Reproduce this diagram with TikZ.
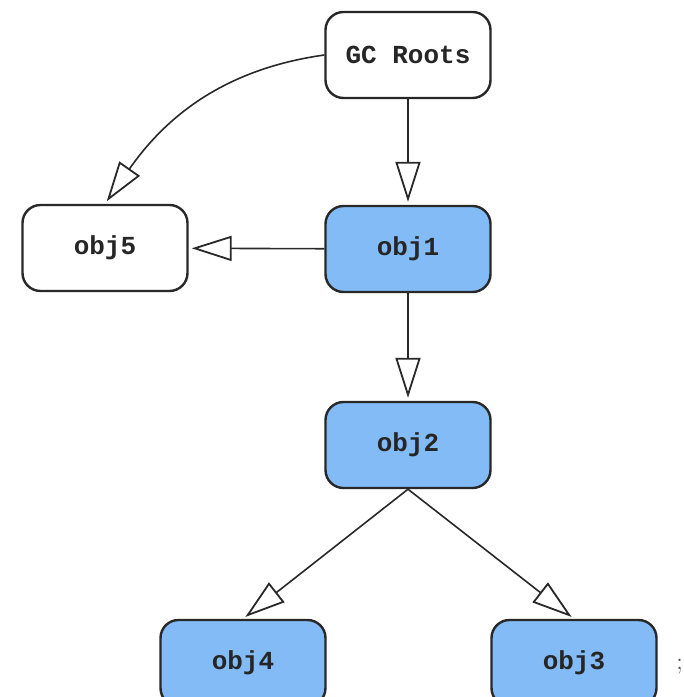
\documentclass[tikz,border=0pt]{standalone}
\usepackage{fontspec}
\setmonofont{Liberation Mono}
\usetikzlibrary{arrows.meta}
\definecolor{objblue}{RGB}{130,187,245}
\definecolor{edge}{RGB}{40,40,40}
\tikzset{
  objbox/.style={draw=edge, line width=1.2pt, rounded corners=9pt,
    minimum width=82.5pt, minimum height=43pt, inner sep=0pt,
    font=\ttfamily\bfseries\fontsize{13}{15}\selectfont, text=black!85},
  live/.style={objbox, fill=objblue},
  dead/.style={objbox, fill=white},
  conn/.style={draw=edge, line width=0.8pt, shorten >=1.5pt,
    -{Triangle[length=20pt, width=12.5pt, fill=white, line width=0.9pt]}},
}
\begin{document}
\begin{tikzpicture}[x=0.5pt, y=-0.5pt]
\useasboundingbox (0,0) rectangle (684,697);
\begin{scope}
\clip (0,0) rectangle (684,697);
\node[dead] (g) at (408,55) {GC Roots};
\node[dead] (o5) at (105,248) {obj5};
\node[live] (o1) at (408,249) {obj1};
\node[live] (o2) at (408,445) {obj2};
\node[live] (o4) at (243,663) {obj4};
\node[live] (o3) at (574,663) {obj3};
\draw[conn] (g) -- (o1);
\draw[conn] (o1) -- (o2);
\draw[conn] (o1) -- (o5);
\draw[conn] (g.west) to[out=188, in=55] (o5.north);
\draw[conn] (o2.south) -- (o4.north);
\draw[conn] (o2.south) -- (o3.north);
\node[anchor=west, inner sep=0pt, font=\fontsize{12}{14}\selectfont, text=black!70] (sc) at (676,667) {;};
\end{scope}
\end{tikzpicture}
\end{document}
